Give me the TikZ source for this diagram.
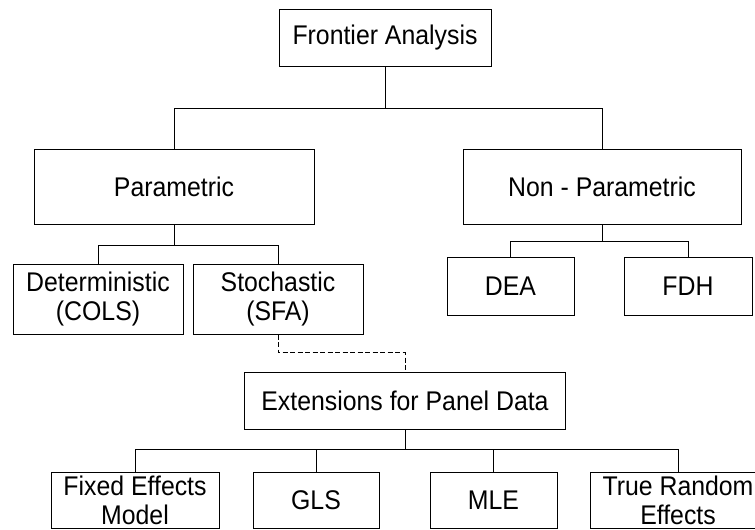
\documentclass[tikz,border=0pt]{standalone}
\usepackage{fontspec}
\setmainfont[FakeStretch=0.92]{Liberation Sans}
\usetikzlibrary{positioning, calc}

\begin{document}
\begin{tikzpicture}[
    x=1pt, y=-1pt,
    box/.style={
        rectangle,
        draw, line width=1pt,
        inner sep=0pt, align=center,
        font=\fontsize{27}{29}\selectfont
    },
    link/.style={
        line width=1pt
    },
    panellink/.style={
        line width=1pt,
        dash pattern=on 5pt off 2.5pt
    }
]
    \useasboundingbox (0,0) rectangle (755,530);

    % The top levels ===========================
    \node[box, minimum width=212pt, minimum height=57pt] (Frontier) at (385, 37.5) {Frontier Analysis};

    \node[box, minimum width=280pt, minimum height=75pt] (Parametric) at (174, 186.5) {Parametric};
    \node[box, minimum width=278pt, minimum height=75pt] (NonParametric) at (602, 186.5) {Non - Parametric};

    % Parametric and non-parametric methods ====================
    \node[box, minimum width=170pt, minimum height=70pt] (Deterministic) at (98, 299) {Deterministic\\(COLS)};
    \node[box, minimum width=170pt, minimum height=70pt] (Stochastic) at (278, 299) {Stochastic\\(SFA)};

    \node[box, minimum width=127pt, minimum height=58pt] (DEA) at (510.5, 286) {DEA};
    \node[box, minimum width=128pt, minimum height=58pt] (FDH) at (688, 286) {FDH};

    % Panel data ====================
    \node[box, minimum width=321pt, minimum height=57pt] (Extensions) at (405, 400.5) {Extensions for Panel Data};

    \node[box, minimum width=168pt, minimum height=56pt] (Fixed) at (135, 500) {Fixed Effects\\Model};
    \node[box, minimum width=126pt, minimum height=56pt] (GLS) at (316, 500) {GLS};
    \node[box, minimum width=127pt, minimum height=56pt] (MLE) at (493.5, 500) {MLE};
    \node[box, minimum width=176pt, minimum height=56pt] (TrueRandom) at (678, 500) {True Random\\Effects};

    % Tree edges ====================
    \draw[link] (Frontier.south) -- ++(0,42) -| (Parametric.north);
    \draw[link] (Frontier.south) -- ++(0,42) -| (NonParametric.north);

    \draw[link] (Parametric.south) -- ++(0,21) -| (Deterministic.north);
    \draw[link] (Parametric.south) -- ++(0,21) -| (Stochastic.north);

    \draw[link] (NonParametric.south) -- ++(0,17) -| (DEA.north);
    \draw[link] (NonParametric.south) -- ++(0,17) -| (FDH.north);

    % From SFA to the panel extensions
    \draw[panellink] (Stochastic.south) -- ++(0,18) -| (Extensions.north);

    \draw[link] (Extensions.south) -- ++(0,20) -| (Fixed.north);
    \draw[link] (Extensions.south) -- ++(0,20) -| (GLS.north);
    \draw[link] (Extensions.south) -- ++(0,20) -| (MLE.north);
    \draw[link] (Extensions.south) -- ++(0,20) -| (TrueRandom.north);

\end{tikzpicture}
\end{document}
